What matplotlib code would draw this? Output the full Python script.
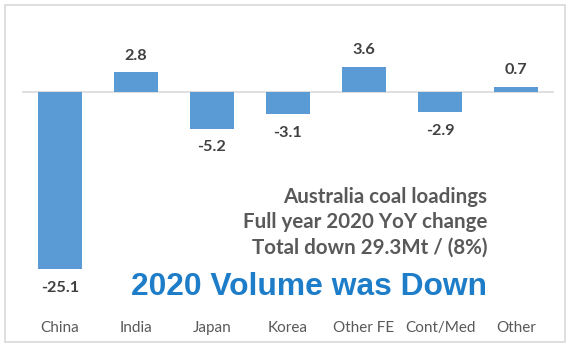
import matplotlib
matplotlib.use("Agg")
import matplotlib.pyplot as plt
from matplotlib.patches import Rectangle

# Full-year 2020 YoY change in Australian coal loadings by destination (Mt)
destinations = ["China", "India", "Japan", "Korea", "Other FE", "Cont/Med", "Other"]
yoy_change = [-25.1, 2.8, -5.2, -3.1, 3.6, -2.9, 0.7]

note_lines = ["Australia coal loadings", "Full year 2020 YoY change", "Total down 29.3Mt / (8%)"]
headline = "2020 Volume was Down"

BAR_COLOR = "#5B9BD5"
LABEL_COLOR = "#404040"
TICK_COLOR = "#595959"
HEAD_COLOR = "#1E7DC8"
BODY_FONT = ["Lato", "DejaVu Sans"]

W, H = 566, 345
fig = plt.figure(figsize=(W / 100, H / 100), dpi=100)

# outer frame
fig.patches.append(Rectangle((4.5 / W, 3 / H), 560 / W, 337.5 / H, transform=fig.transFigure,
                             fill=False, edgecolor="#D9D9D9", linewidth=1.2))

# plot area in pixels: x 22..554, y 20..305 (top-down), zero line at y=92
px_per_unit = 7.05
top_px, bot_px, zero_px = 20, 305, 92
ax = fig.add_axes([22 / W, (H - bot_px) / H, 532 / W, (bot_px - top_px) / H])
ax.set_ylim(-(bot_px - zero_px) / px_per_unit, (zero_px - top_px) / px_per_unit)
ax.set_xlim(-0.5, len(destinations) - 0.5)

x = list(range(len(destinations)))
ax.bar(x, yoy_change, width=0.57, color=BAR_COLOR, zorder=2)
ax.axhline(0, color="#D9D9D9", linewidth=1.2, zorder=1)

for xi, v in zip(x, yoy_change):
    off = 12 if v >= 0 else -13.5
    ax.annotate(f"{v:.1f}", (xi, v), xytext=(0, off), textcoords="offset points",
                ha="center", va="center", fontsize=11.7, fontweight="bold",
                color=LABEL_COLOR, family=BODY_FONT)

for s in ax.spines.values():
    s.set_visible(False)
ax.set_yticks([])
ax.set_xticks(x)
ax.set_xticklabels(destinations, fontsize=11, color=TICK_COLOR, family=BODY_FONT)
ax.tick_params(axis="x", length=0, pad=11.5)

# commentary block
for i, line in enumerate(note_lines):
    fig.text(487 / W, 1 - (197 + 25.5 * i) / H, line, ha="right", va="center",
             fontsize=14.8, fontweight="bold", color=TICK_COLOR, family=BODY_FONT)
fig.text(487 / W, 1 - 287 / H, headline, ha="right", va="center",
         fontsize=22.9, fontweight="bold", color=HEAD_COLOR,
         family=["Liberation Sans", "DejaVu Sans"])

fig.savefig("out.png", dpi=100)
